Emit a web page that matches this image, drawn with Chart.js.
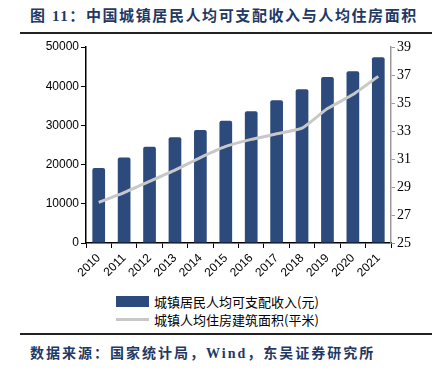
<!DOCTYPE html>
<html>
<head>
<meta charset="utf-8">
<script src="https://cdn.jsdelivr.net/npm/chart.js@4.4.1/dist/chart.umd.min.js"></script>
<style>
  html, body { margin: 0; padding: 0; background: #fff; }
  #wrap { position: relative; width: 442px; height: 374px; overflow: hidden; }
  #chartBox { position: absolute; left: 0; top: 0; width: 442px; height: 290px; }
  .title {
    position: absolute; left: 30px; top: 4px; white-space: nowrap;
    font: bold 15px "Liberation Serif", "Noto Sans CJK SC", serif;
    letter-spacing: 1.6px; color: #1f3864;
  }
  .rule { position: absolute; left: 20px; width: 412px; height: 2px; background: #222; }
  .source {
    position: absolute; left: 30px; top: 342px; white-space: nowrap;
    font: bold 14px "Liberation Serif", "Noto Sans CJK SC", serif;
    letter-spacing: 2px; color: #1f3864;
  }
  .legend { position: absolute; left: 116px; top: 292px; font: 13px "Noto Sans CJK SC", sans-serif; color: #000; }
  .legend .row { height: 18px; display: flex; align-items: center; }
  .legend .swatch { width: 33px; margin-right: 5px; }
</style>
</head>
<body>
<div id="wrap">
  <div class="title">图 11：中国城镇居民人均可支配收入与人均住房面积</div>
  <div class="rule" style="top:32px"></div>
  <div id="chartBox"><canvas id="chart"></canvas></div>
  <div class="legend" id="legend"></div>
  <div class="rule" style="top:333px"></div>
  <div class="source">数据来源：国家统计局，Wind，东吴证券研究所</div>
</div>
<script>
// chart data
const years = ['2010', '2011', '2012', '2013', '2014', '2015', '2016', '2017', '2018', '2019', '2020', '2021'];
const incomeLabel = '城镇居民人均可支配收入(元)';
const income = [19109, 21810, 24565, 26955, 28844, 31195, 33616, 36396, 39251, 42359, 43834, 47412];
const areaLabel = '城镇人均住房建筑面积(平米)';
const area = [27.9, 28.6, 29.4, 30.2, 31.1, 31.9, 32.4, 32.8, 33.2, 34.6, 35.6, 36.9];

const barColor = '#2c4a7b';
const lineColor = '#c8c8c8';

function buildLegend() {
  const legend = document.getElementById('legend');
  legend.innerHTML = `
    <div class="row"><span class="swatch" style="height:11px;background:${barColor}"></span>${incomeLabel}</div>
    <div class="row"><span class="swatch" style="height:3px;background:${lineColor}"></span>${areaLabel}</div>
  `;
}

function initChart() {
  const ctx = document.getElementById('chart').getContext('2d');
  new Chart(ctx, {
    data: {
      labels: years,
      datasets: [{
        type: 'line',
        label: areaLabel,
        data: area,
        yAxisID: 'y1',
        borderColor: lineColor,
        borderWidth: 3,
        pointRadius: 0,
        tension: 0.15,
        order: 0
      }, {
        type: 'bar',
        label: incomeLabel,
        data: income,
        yAxisID: 'y',
        backgroundColor: barColor,
        borderRadius: { topLeft: 2, topRight: 2 },
        categoryPercentage: 1,
        barPercentage: 0.5,
        order: 1
      }]
    },
    options: {
      responsive: true,
      maintainAspectRatio: false,
      animation: false,
      layout: { padding: { top: 47, left: 0, right: 0, bottom: 0 } },
      plugins: {
        legend: { display: false },
        tooltip: { enabled: false }
      },
      scales: {
        x: {
          offset: true,
          grid: { offset: true, drawOnChartArea: false, tickLength: 5, color: '#000' },
          border: { color: '#000', width: 1.5 },
          ticks: {
            minRotation: 45, maxRotation: 45, padding: 3,
            color: '#000', font: { family: 'Liberation Sans', size: 12 }
          },
          afterFit: s => { s.height = 47; }
        },
        y: {
          position: 'left',
          min: 0, max: 50000,
          ticks: {
            stepSize: 10000, color: '#000', padding: 2,
            font: { family: 'Liberation Sans', size: 12 },
            callback: v => String(v)
          },
          grid: { drawOnChartArea: false, tickLength: 5, color: '#000' },
          border: { color: '#000', width: 1.5 },
          afterFit: s => { s.width = 86; }
        },
        y1: {
          position: 'right',
          min: 25, max: 39,
          ticks: { stepSize: 2, color: '#000', padding: 2, font: { family: 'Liberation Serif', size: 14 } },
          grid: { drawOnChartArea: false, tickLength: 4, color: '#999' },
          border: { color: '#999', width: 1.5 },
          afterFit: s => { s.width = 51; }
        }
      }
    }
  });
}

buildLegend();
initChart();
</script>
</body>
</html>
